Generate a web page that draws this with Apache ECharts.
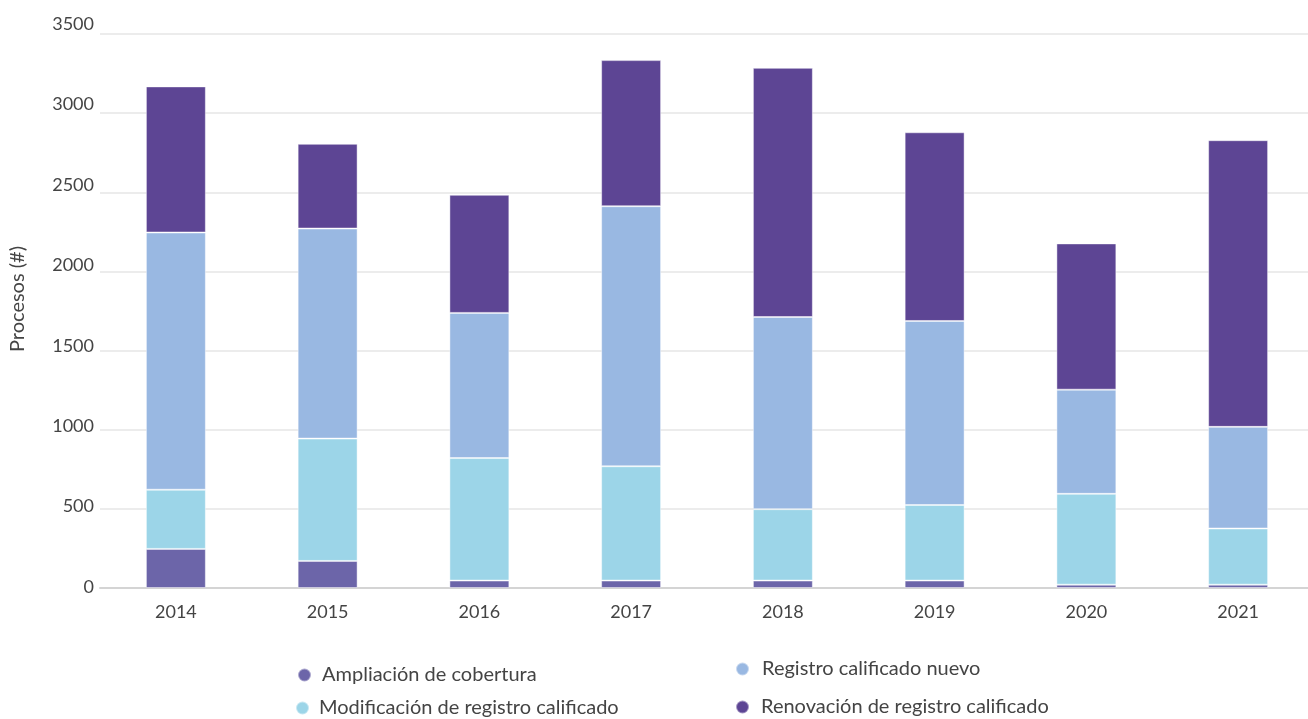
<!DOCTYPE html>
<html>
<head>
<meta charset="utf-8">
<script src="https://cdn.jsdelivr.net/npm/echarts@6/dist/echarts.min.js"></script>
<style>
  html, body { margin: 0; padding: 0; background: #ffffff; }
  #chart { width: 1308px; height: 719px; }
</style>
</head>
<body>
<div id="chart"></div>
<script>
// Procesos por año y tipo de trámite
const years = ['2014', '2015', '2016', '2017', '2018', '2019', '2020', '2021'];
const ampliacion   = [247, 171, 47, 47, 47, 47, 21, 21];
const modificacion = [374, 773, 774, 722, 451, 477, 574, 355];
const nuevo        = [1625, 1327, 917, 1643, 1214, 1163, 658, 642];
const renovacion   = [923, 535, 746, 923, 1574, 1192, 924, 1811];
const yTicks = { min: 0, max: 3500, interval: 500 };

const FONT = 'Lato';
const TEXT = '#444444';

const names = [
  'Ampliación de cobertura',
  'Modificación de registro calificado',
  'Registro calificado nuevo',
  'Renovación de registro calificado'
];
const colors = ['#6c65a9', '#9cd5e8', '#99b8e2', '#5d4594'];
const values = [ampliacion, modificacion, nuevo, renovacion];

const series = values.map((v, i) => ({
  name: names[i],
  type: 'bar',
  stack: 'total',
  data: v,
  barWidth: '39.5%',
  xAxisIndex: 0,
  yAxisIndex: 0,
  itemStyle: { color: colors[i], borderColor: 'rgba(255,255,255,0.45)', borderWidth: 1 }
}));

// one legend per entry so each can sit on its own spot
const legendSpots = [
  { left: 292, top: 660, gap: 6 },
  { left: 290, top: 693, gap: 5 },
  { left: 730, top: 654, gap: 8 },
  { left: 730, top: 692, gap: 7 }
];
const legends = names.map((n, i) => ({
  data: [n],
  left: legendSpots[i].left,
  top: legendSpots[i].top,
  icon: 'circle',
  itemWidth: 13,
  itemHeight: 13,
  itemGap: 0,
  textStyle: { fontFamily: FONT, fontSize: 20, color: TEXT, padding: [0, 0, 0, legendSpots[i].gap] }
}));

const chart = echarts.init(document.getElementById('chart'), null, { renderer: 'canvas' });
chart.setOption({
  animation: false,
  backgroundColor: '#ffffff',
  legend: legends,
  grid: [
    { left: 100, top: 34, width: 1214, bottom: 131, containLabel: false, outerBoundsMode: 'none' },
    { left: 100, top: 24, width: 1214, bottom: 132, containLabel: false, outerBoundsMode: 'none' }
  ],
  xAxis: [
    {
      type: 'category',
      data: years,
      gridIndex: 0,
      axisLine: { lineStyle: { color: '#d4d4d4', width: 2 } },
      axisTick: { show: false },
      axisLabel: { fontFamily: FONT, fontSize: 18, color: TEXT, margin: 15 }
    },
    {
      type: 'category',
      data: years,
      gridIndex: 1,
      show: false
    }
  ],
  yAxis: [
    {
      type: 'value',
      gridIndex: 0,
      min: yTicks.min, max: yTicks.max, interval: yTicks.interval,
      axisLine: { show: false },
      axisTick: { show: false },
      axisLabel: { show: false },
      splitLine: { lineStyle: { color: '#e6e6e6', width: 1.5 } },
      name: 'Procesos (#)',
      nameLocation: 'middle',
      nameGap: 72,
      nameRotate: 90,
      nameTextStyle: { fontFamily: FONT, fontSize: 20, color: TEXT, padding: [0, 0, 0, 24] }
    },
    {
      type: 'value',
      gridIndex: 1,
      min: yTicks.min, max: yTicks.max, interval: yTicks.interval,
      axisLine: { show: false },
      axisTick: { show: false },
      splitLine: { show: false },
      axisLabel: {
        fontFamily: FONT, fontSize: 18, color: TEXT, margin: 6,
        formatter: (v) => String(v)
      }
    }
  ],
  series: series
});
</script>
</body>
</html>
